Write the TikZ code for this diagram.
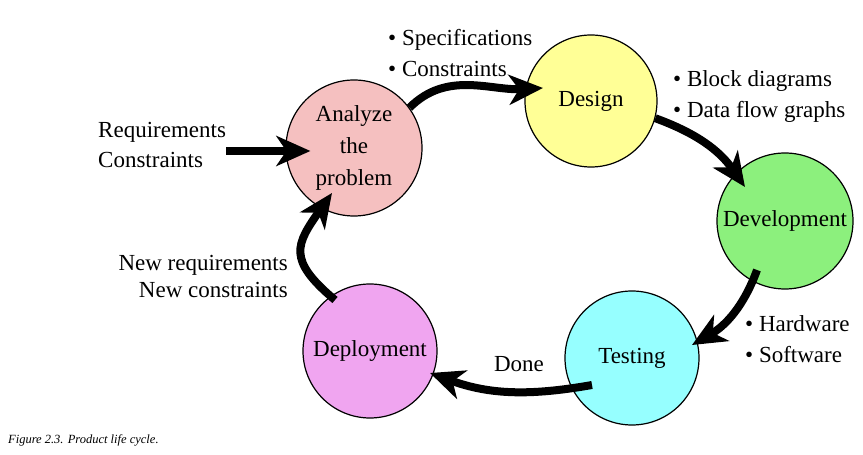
\documentclass[tikz,border=0pt]{standalone}
\usepackage{fontspec}
\setmainfont{Liberation Serif}
\usetikzlibrary{arrows.meta}
\definecolor{AnalyzePink}{RGB}{245,192,192}
\definecolor{DesignYellow}{RGB}{255,255,150}
\definecolor{DevGreen}{RGB}{140,240,125}
\definecolor{TestCyan}{RGB}{150,255,255}
\definecolor{DeployViolet}{RGB}{240,165,240}

\begin{document}
\begin{tikzpicture}[x=1pt, y=1pt,
	stage/.style={circle, draw=black, line width=1.2pt, fill=#1, align=center, inner sep=0pt,
	minimum size=134pt, font=\fontsize{23}{32}\selectfont},
	stage/.default=white,
	note/.style={align=left, inner sep=0pt, font=\fontsize{23}{31}\selectfont},
	flow/.style={-{Stealth[length=34pt, width=30pt, inset=10pt]}, line width=8pt}]

	\useasboundingbox (0,0) rectangle (863,455);

	\node [stage=AnalyzePink, minimum size=136pt] (analyze) at (354,307) {Analyze\\the\\problem};
	\node [stage=DesignYellow, minimum size=132pt] (design) at (591,354) {Design};
	\node [stage=DevGreen, minimum size=136pt] (development) at (785,234) {Development};
	\node [stage=TestCyan] (testing) at (632,97) {Testing};
	\node [stage=DeployViolet] (deployment) at (370,104) {Deployment};

	\node [note, anchor=west] (specs) at (388,402) {\textbullet~Specifications\\\textbullet~Constraints};
	\node [note, anchor=west, font=\fontsize{23}{30}\selectfont] (req) at (98,310) {Requirements\\Constraints};
	\node [note, anchor=west] (blocks) at (673,358) {\textbullet~Block diagrams\\\textbullet~Data flow graphs};
	\node [note, anchor=east, align=right, font=\fontsize{23}{27}\selectfont] (newreq) at (288,178) {New requirements\\New constraints};
	\node [note, anchor=west] (hwsw) at (745,116) {\textbullet~Hardware\\\textbullet~Software};
	\node [note] (done) at (519,91) {Done};
	\node [anchor=west, inner sep=0pt, font=\fontsize{12.5}{14}\selectfont\itshape] (caption) at (8,15) {Figure 2.3. Product life cycle.};

	\draw [flow] ([yshift=-6pt]req.east) -- ([shift={(25,-3)}]analyze.west);
	\draw [flow] (analyze.36) to[out=45, in=183] ([shift={(-48,13)}]design.center);
	\draw [flow] (design.-15) to[out=-20, in=125] ([shift={(-40,34)}]development.center);
	\draw [flow] ([shift={(-28,-49)}]development.center) to[out=-110, in=30] ([shift={(60,13)}]testing.center);
	\draw [flow] ([shift={(-40,-27)}]testing.center) to[out=190, in=-20] ([shift={(60,-22)}]deployment.center);
	\draw [flow] ([shift={(-35,51)}]deployment.center) to[out=140, in=235, looseness=1.5] ([shift={(-22,-45)}]analyze.center);
\end{tikzpicture}
\end{document}
